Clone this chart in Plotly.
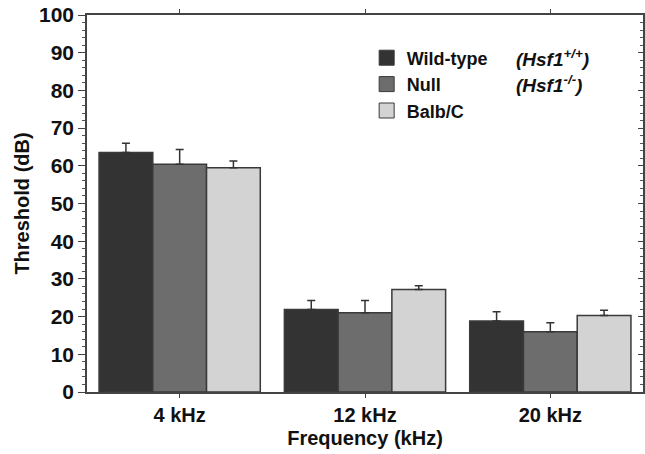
import plotly.graph_objects as go

categories = ["4 kHz", "12 kHz", "20 kHz"]
wild_type = [63.5, 21.9, 18.8]
wild_type_err = [2.5, 2.4, 2.5]
null = [60.4, 21.0, 16.0]
null_err = [3.9, 3.3, 2.4]
balbc = [59.5, 27.2, 20.3]
balbc_err = [1.8, 1.0, 1.4]

series_names = ["Wild-type", "Null", "Balb/C"]
genotypes = ["(Hsf1<sup>+/+</sup>)", "(Hsf1<sup>-/-</sup>)"]
colors = ["#333333", "#6d6d6d", "#d3d3d3"]
FONT = "Liberation Sans, Arial, sans-serif"

fig = go.Figure()
for name, vals, errs, col in zip(series_names, [wild_type, null, balbc],
                                 [wild_type_err, null_err, balbc_err], colors):
    fig.add_trace(go.Bar(
        x=categories, y=vals, name=name, showlegend=False,
        marker=dict(color=col, line=dict(color="#3a3a3a", width=1.5)),
        error_y=dict(type="data", symmetric=False, array=errs,
                     arrayminus=[0] * len(errs), color="#333333",
                     thickness=1.5, width=4),
    ))
    fig.add_trace(go.Scatter(
        x=[None], y=[None], mode="markers", name=f"<b>{name}</b>",
        marker=dict(symbol="square", size=15, color=col,
                    line=dict(color="#3a3a3a", width=1)),
    ))

for g, yy in zip(genotypes, [0.885, 0.818]):
    fig.add_annotation(xref="x domain", yref="y domain", x=0.768, y=yy,
                       xanchor="left", yanchor="middle", showarrow=False,
                       text=f"<b><i>{g}</i></b>",
                       font=dict(family=FONT, size=19, color="#111"))

fig.update_layout(
    width=645, height=454,
    margin=dict(l=87, r=2, t=15, b=62, autoexpand=False),
    paper_bgcolor="white", plot_bgcolor="white",
    barmode="group", bargap=0.13, bargroupgap=0,
    font=dict(family=FONT, color="#111"),
    legend=dict(x=0.503, y=0.935, xanchor="left", yanchor="top",
                font=dict(family=FONT, size=18, color="#111"),
                bgcolor="rgba(0,0,0,0)", tracegroupgap=0),
    xaxis=dict(
        automargin=False,
        showline=True, linecolor="#444", linewidth=1.5, mirror="ticks",
        ticks="outside", ticklen=4, tickcolor="#444",
        tickfont=dict(family=FONT, size=20, color="#111"),
        tickvals=categories, ticktext=[f"<b>{c}</b>" for c in categories],
        title=dict(text="<b>Frequency (kHz)</b>", standoff=6,
                   font=dict(family=FONT, size=20, color="#111")),
        showgrid=False,
    ),
    yaxis=dict(
        automargin=False,
        range=[0, 100], tickvals=list(range(0, 101, 10)),
        ticktext=[f"<b>{v}</b>" for v in range(0, 101, 10)],
        showline=True, linecolor="#444", linewidth=1.5,
        ticks="outside", ticklen=7, tickcolor="#444",
        minor=dict(dtick=2, ticks="outside", ticklen=3, tickcolor="#555"),
        tickfont=dict(family=FONT, size=21, color="#111"),
        title=dict(text="<b>Threshold (dB)</b>", standoff=4,
                   font=dict(family=FONT, size=20, color="#111")),
        showgrid=False, zeroline=False,
    ),
    yaxis2=dict(
        automargin=False,
        overlaying="y", side="right", matches="y", range=[0, 100],
        showline=True, linecolor="#444", linewidth=1.5,
        ticks="inside", ticklen=5, tickcolor="#444", dtick=10,
        minor=dict(dtick=2, ticks="inside", ticklen=3, tickcolor="#555"),
        showticklabels=False, showgrid=False, zeroline=False,
    ),
)
fig.add_trace(go.Scatter(x=[None], y=[None], yaxis="y2", showlegend=False))
fig.write_html("out.html", config={"displayModeBar": False},
               post_script="document.body.style.margin='0';document.body.style.overflow='hidden';")
